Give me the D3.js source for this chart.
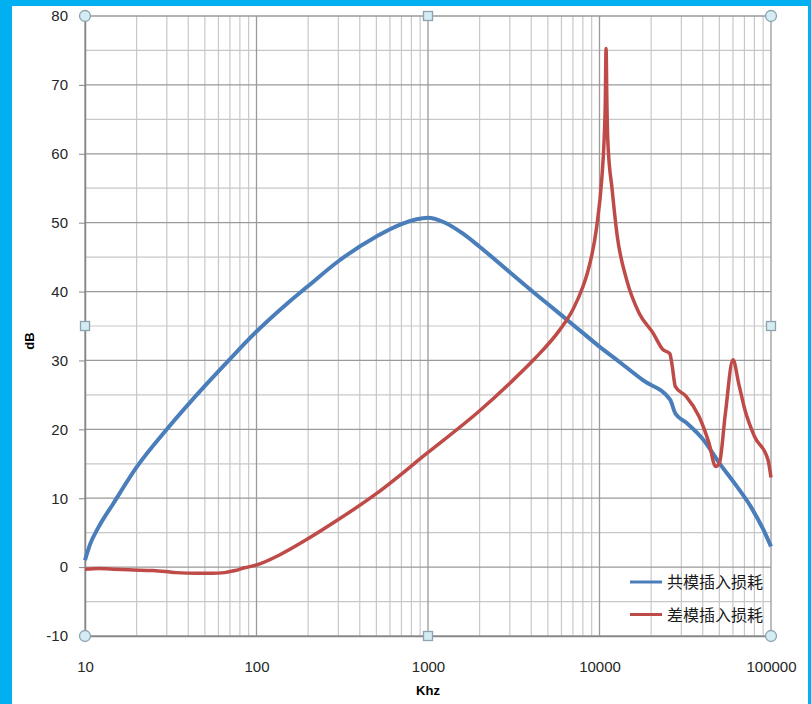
<!DOCTYPE html>
<html>
<head>
<meta charset="utf-8">
<script src="https://cdn.jsdelivr.net/npm/d3@7"></script>
<style>
  body { margin: 0; background: #00b0f0; }
  #chart { width: 811px; height: 704px; }
  .axis text { font-family: "Liberation Sans", Arial, sans-serif; font-size: 15px; fill: #262626; }
</style>
</head>
<body>
<div id="chart"></div>
<script>
// Common-mode insertion loss (blue)
let cmFreq = [10, 10.7, 12, 14.6, 20, 30, 50, 70, 100, 150, 200, 300, 500, 700, 1000, 1230, 1600, 2000, 3000, 4170, 5850, 8000, 10000, 13200, 18000, 25800, 27700, 32000, 40000, 50000, 62000, 77000, 90000, 100000];
let cmDb = [1.0, 3.3, 5.8, 9.2, 14.5, 20.0, 26.3, 30.2, 34.2, 38.2, 40.8, 44.4, 48.0, 49.8, 50.7, 50.1, 48.4, 46.5, 42.8, 39.8, 36.8, 34.0, 32.0, 29.7, 27.1, 24.3, 22.3, 21.0, 18.6, 15.1, 12.0, 8.6, 5.5, 3.0];

// Differential-mode insertion loss (red)
let dmFreq = [10, 12, 15, 18, 25, 34, 45, 55, 65, 75, 85, 100, 137, 196, 300, 502, 983, 2000, 3000, 4170, 5850, 7000, 8000, 8500, 9630, 10300, 10640, 10800, 10920, 11050, 11200, 11850, 12700, 14400, 17000, 20500, 23400, 25700, 26400, 27700, 32000, 38000, 43500, 47500, 50000, 54200, 60000, 65000, 70500, 80000, 96000, 100000];
let dmDb = [-0.3, -0.2, -0.3, -0.4, -0.5, -0.8, -0.9, -0.9, -0.8, -0.5, -0.1, 0.3, 1.8, 4.0, 6.9, 10.7, 16.5, 22.7, 26.7, 30.2, 34.4, 37.4, 40.7, 42.7, 49.4, 56.2, 62.0, 67.0, 75.3, 67.0, 61.5, 54.8, 48.0, 41.7, 36.9, 34.0, 31.6, 31.0, 29.6, 26.2, 24.8, 21.9, 18.0, 14.6, 15.1, 22.3, 30.1, 26.5, 22.8, 19.0, 15.6, 13.0];

let seriesNames = ["共模插入损耗", "差模插入损耗"];
let seriesColors = ["#4a7ebb", "#be4b48"];
let xTicks = [10, 100, 1000, 10000, 100000];
let yTicks = [-10, 0, 10, 20, 30, 40, 50, 60, 70, 80];

let svg = d3.select("#chart").append("svg")
    .attr("width", 811)
    .attr("height", 704);

// white chart area inside the cyan frame
svg.append("rect")
    .attr("x", 12).attr("y", 6)
    .attr("width", 796).attr("height", 698)
    .attr("fill", "white");

let x = d3.scaleLog().domain([10, 100000]).range([85, 771]);
let y = d3.scaleLinear().domain([-10, 80]).range([636, 16]);

// Grid lines
let minorX = [];
for (let d = 10; d < 100000; d *= 10) {
    for (let k = 2; k <= 9; k++) minorX.push(d * k);
}
let minorY = d3.range(-5, 80, 10);

let grid = svg.append("g");
grid.selectAll(".vminor").data(minorX).enter().append("line")
    .attr("x1", d => x(d)).attr("x2", d => x(d))
    .attr("y1", y(-10)).attr("y2", y(80))
    .attr("stroke", "#c8c8c8").attr("stroke-width", 1.2);
grid.selectAll(".hminor").data(minorY).enter().append("line")
    .attr("x1", x(10)).attr("x2", x(100000))
    .attr("y1", d => y(d)).attr("y2", d => y(d))
    .attr("stroke", "#c8c8c8").attr("stroke-width", 1.2);
grid.selectAll(".vmajor").data(xTicks).enter().append("line")
    .attr("x1", d => x(d)).attr("x2", d => x(d))
    .attr("y1", y(-10)).attr("y2", y(80))
    .attr("stroke", "#9a9a9a").attr("stroke-width", 1.3);
grid.selectAll(".hmajor").data(yTicks).enter().append("line")
    .attr("x1", x(10)).attr("x2", x(100000))
    .attr("y1", d => y(d)).attr("y2", d => y(d))
    .attr("stroke", "#9a9a9a").attr("stroke-width", 1.3);

// Axes
let yAxis = d3.axisLeft(y).tickValues(yTicks).tickSize(6).tickPadding(11)
    .tickFormat(d => String(d));
let gy = svg.append("g").attr("class", "axis")
    .attr("transform", "translate(" + x(10) + ",0)")
    .call(yAxis);
gy.select(".domain").attr("stroke", "#868686").attr("stroke-width", 1.5);
gy.selectAll(".tick line").attr("stroke", "#868686");

let xAxis = d3.axisBottom(x).tickValues(xTicks).tickSize(0).tickPadding(25)
    .tickFormat(d => String(d));
let gx = svg.append("g").attr("class", "axis")
    .attr("transform", "translate(0," + y(-10) + ")")
    .call(xAxis);
gx.select(".domain").attr("stroke", "#868686").attr("stroke-width", 1.5);

// Axis titles
svg.append("text")
    .attr("x", 428).attr("y", 695)
    .attr("text-anchor", "middle")
    .style("font-family", "Liberation Sans, Arial, sans-serif")
    .style("font-size", "13px").style("font-weight", "bold")
    .text("Khz");

svg.append("text")
    .attr("transform", "translate(34,341) rotate(-90)")
    .attr("text-anchor", "middle")
    .style("font-family", "Liberation Sans, Arial, sans-serif")
    .style("font-size", "13px").style("font-weight", "bold")
    .text("dB");

// Series lines
let line = d3.line()
    .x(d => x(d[0]))
    .y(d => y(d[1]))
    .curve(d3.curveMonotoneX);

let cmData = cmFreq.map((f, i) => [f, cmDb[i]]);
let dmData = dmFreq.map((f, i) => [f, dmDb[i]]);

svg.append("path").datum(cmData)
    .attr("d", line)
    .attr("fill", "none")
    .attr("stroke", seriesColors[0])
    .attr("stroke-width", 4)
    .attr("stroke-linejoin", "round");

svg.append("path").datum(dmData)
    .attr("d", line)
    .attr("fill", "none")
    .attr("stroke", seriesColors[1])
    .attr("stroke-width", 3.5)
    .attr("stroke-linejoin", "round");

// Legend
let legend = svg.append("g").attr("transform", "translate(630,582)");
seriesNames.forEach((name, i) => {
    let g = legend.append("g").attr("transform", "translate(0," + (i * 32.5) + ")");
    g.append("line")
        .attr("x1", 0).attr("x2", 32)
        .attr("stroke", seriesColors[i]).attr("stroke-width", 3);
    g.append("text")
        .attr("x", 37).attr("y", 6)
        .style("font-family", "Noto Sans CJK SC, sans-serif")
        .style("font-size", "16px")
        .style("fill", "#1a1a1a")
        .text(name);
});

// Selection handles on the plot area
let corners = [[10, 80], [100000, 80], [10, -10], [100000, -10]];
let mids = [[1000, 80], [1000, -10], [10, 35], [100000, 35]];
svg.selectAll(".handle-c").data(corners).enter().append("circle")
    .attr("cx", d => x(d[0])).attr("cy", d => y(d[1]))
    .attr("r", 5.5)
    .attr("fill", "#d4ecf4").attr("stroke", "#8fa3ad").attr("stroke-width", 1.3);
svg.selectAll(".handle-s").data(mids).enter().append("rect")
    .attr("x", d => x(d[0]) - 4.5).attr("y", d => y(d[1]) - 4.5)
    .attr("width", 9).attr("height", 9)
    .attr("fill", "#d4ecf4").attr("stroke", "#8fa3ad").attr("stroke-width", 1.3);
</script>
</body>
</html>
